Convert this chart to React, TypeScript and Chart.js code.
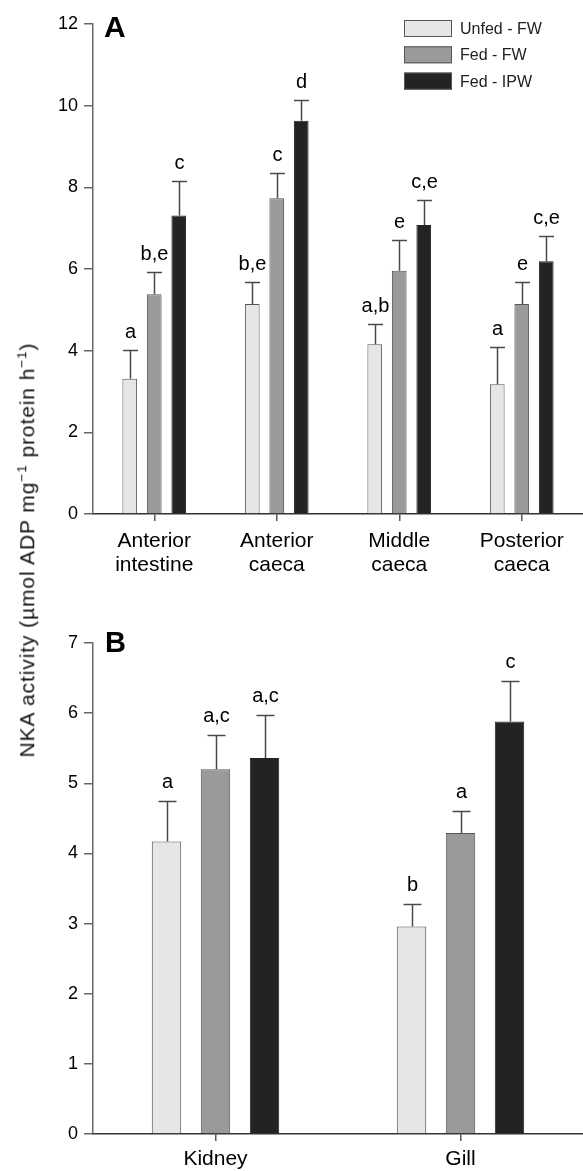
import React, { useEffect, useRef } from "react";
import { Chart, registerables } from "chart.js";

Chart.register(...registerables);

// ---------- data ----------
const seriesLabels = ["Unfed - FW", "Fed - FW", "Fed - IPW"];
const seriesColors = ["#e6e6e6", "#9a9a9a", "#232323"];

const categoriesA = [["Anterior", "intestine"], ["Anterior", "caeca"], ["Middle", "caeca"], ["Posterior", "caeca"]];
const unfedFwA = [3.31, 5.14, 4.16, 3.18];
const fedFwA = [5.38, 7.73, 5.96, 5.14];
const fedIpwA = [7.31, 9.63, 7.08, 6.19];
const unfedFwErrA = [0.71, 0.54, 0.5, 0.91];
const fedFwErrA = [0.54, 0.63, 0.76, 0.55];
const fedIpwErrA = [0.84, 0.52, 0.6, 0.61];
const unfedFwLettersA = ["a", "b,e", "a,b", "a"];
const fedFwLettersA = ["b,e", "c", "e", "e"];
const fedIpwLettersA = ["c", "d", "c,e", "c,e"];
const yTicksA = { min: 0, max: 12, step: 2 };

const categoriesB = ["Kidney", "Gill"];
const unfedFwB = [4.17, 2.96];
const fedFwB = [5.2, 4.29];
const fedIpwB = [5.36, 5.88];
const unfedFwErrB = [0.58, 0.32];
const fedFwErrB = [0.49, 0.31];
const fedIpwErrB = [0.61, 0.58];
const unfedFwLettersB = ["a", "b"];
const fedFwLettersB = ["a,c", "a"];
const fedIpwLettersB = ["a,c", "c"];
const yTicksB = { min: 0, max: 7, step: 1 };

const yTitle = "NKA activity (\u00b5mol ADP mg";

const FONT = "'Liberation Sans', Arial, Helvetica, sans-serif";

// ---------- plugins ----------
const errPlugin = {
  id: "errbars",
  afterDatasetsDraw(chart: any, _args: any, opts: any) {
    const ctx = chart.ctx;
    const ys = chart.scales.y;
    chart.data.datasets.forEach((ds: any, di: number) => {
      const meta = chart.getDatasetMeta(di);
      meta.data.forEach((bar: any, i: number) => {
        const v = ds.data[i];
        const e = opts.errors[di][i];
        const top = Math.round(ys.getPixelForValue(v + e)) + 0.5;
        const x = Math.round(bar.x) + 0.5;
        const by = bar.y;
        ctx.save();
        ctx.strokeStyle = "#4a4a4a";
        ctx.lineWidth = 1.5;
        ctx.beginPath();
        ctx.moveTo(x, by);
        ctx.lineTo(x, top);
        ctx.moveTo(x - opts.cap / 2, top);
        ctx.lineTo(x + opts.cap / 2, top);
        ctx.stroke();
        ctx.fillStyle = "#000";
        ctx.font = `${opts.letterSize}px ${FONT}`;
        ctx.textAlign = "center";
        ctx.textBaseline = "alphabetic";
        ctx.fillText(opts.letters[di][i], x, top - opts.gap);
        ctx.restore();
      });
    });
  },
};

const decoPlugin = {
  id: "deco",
  afterDraw(chart: any, _args: any, opts: any) {
    const ctx = chart.ctx;
    ctx.save();
    ctx.fillStyle = "#000";
    ctx.font = `bold ${opts.letterSize}px ${FONT}`;
    ctx.textAlign = "left";
    ctx.textBaseline = "alphabetic";
    ctx.fillText(opts.letter, opts.letterX, opts.letterY);
    if (opts.legend) {
      const lg = opts.legend;
      chart.data.datasets.forEach((ds: any, i: number) => {
        const y = lg.y + i * lg.rowH;
        ctx.fillStyle = ds.backgroundColor;
        ctx.fillRect(lg.x, y, lg.boxW, lg.boxH);
        ctx.strokeStyle = "#555";
        ctx.lineWidth = 1;
        ctx.strokeRect(lg.x + 0.5, y + 0.5, lg.boxW - 1, lg.boxH - 1);
        ctx.fillStyle = "#222";
        ctx.font = `${lg.fontSize}px ${FONT}`;
        ctx.textBaseline = "middle";
        ctx.fillText(ds.label, lg.x + lg.boxW + 8, y + lg.boxH / 2 + 1);
      });
    }
    ctx.restore();
  },
};

function makeConfig(
  labels: any[],
  series: number[][],
  errors: number[][],
  letters: string[][],
  yt: { min: number; max: number; step: number },
  dims: { padTop: number; xHeight: number; yWidth: number; xPad: number },
  extra: any
) {
  return {
    type: "bar",
    data: {
      labels,
      datasets: series.map((d, i) => ({
        label: seriesLabels[i],
        data: d,
        backgroundColor: seriesColors[i],
        borderColor: i === 2 ? "#232323" : "#555555",
        borderWidth: 1,
        borderSkipped: "bottom",
        categoryPercentage: 0.6,
        barPercentage: 0.6,
      })),
    },
    options: {
      responsive: false,
      animation: false,
      events: [],
      layout: { padding: { top: dims.padTop, left: 0, right: 0, bottom: 0 } },
      plugins: {
        legend: { display: false },
        tooltip: { enabled: false },
        title: { display: false },
        errbars: { errors, letters, cap: extra.cap, gap: extra.gap, letterSize: 20 },
        deco: extra.deco,
      },
      scales: {
        x: {
          type: "category",
          offset: true,
          afterFit: (s: any) => {
            s.height = dims.xHeight;
          },
          grid: {
            display: true,
            drawOnChartArea: false,
            drawTicks: true,
            tickLength: 7,
            offset: false,
            color: "#555",
            lineWidth: 1.5,
          },
          border: { display: true, color: "#333", width: 1.5 },
          ticks: {
            color: "#000",
            font: { family: FONT, size: 21, lineHeight: 1.15 },
            padding: dims.xPad,
            maxRotation: 0,
            autoSkip: false,
          },
        },
        y: {
          min: yt.min,
          max: yt.max,
          afterFit: (s: any) => {
            s.width = dims.yWidth;
          },
          grid: {
            display: true,
            drawOnChartArea: false,
            drawTicks: true,
            tickLength: 9,
            color: "#666",
            lineWidth: 1.5,
          },
          border: { display: true, color: "#666", width: 1.5 },
          ticks: {
            stepSize: yt.step,
            color: "#000",
            font: { family: FONT, size: 18 },
            padding: 6,
          },
        },
      },
    },
    plugins: [errPlugin, decoPlugin],
  } as any;
}

export default function App() {
  const refA = useRef<HTMLCanvasElement>(null);
  const refB = useRef<HTMLCanvasElement>(null);

  useEffect(() => {
    const chartA = new Chart(
      refA.current!,
      makeConfig(
        categoriesA,
        [unfedFwA, fedFwA, fedIpwA],
        [unfedFwErrA, fedFwErrA, fedIpwErrA],
        [unfedFwLettersA, fedFwLettersA, fedIpwLettersA],
        yTicksA,
        { padTop: 24, xHeight: 86, yWidth: 93, xPad: 8 },
        {
          cap: 15,
          gap: 13,
          deco: {
            letter: "A",
            letterX: 104,
            letterY: 37,
            letterSize: 30,
            legend: { x: 404, y: 20, rowH: 26.3, boxW: 48, boxH: 17, fontSize: 16 },
          },
        }
      )
    );
    const chartB = new Chart(
      refB.current!,
      makeConfig(
        categoriesB,
        [unfedFwB, fedFwB, fedIpwB],
        [unfedFwErrB, fedFwErrB, fedIpwErrB],
        [unfedFwLettersB, fedFwLettersB, fedIpwLettersB],
        yTicksB,
        { padTop: 43, xHeight: 37, yWidth: 93, xPad: 6 },
        {
          cap: 18,
          gap: 14,
          deco: { letter: "B", letterX: 105, letterY: 52, letterSize: 29, legend: null },
        }
      )
    );
    return () => {
      chartA.destroy();
      chartB.destroy();
    };
  }, []);

  return (
    <div
      style={{
        position: "absolute",
        left: 0,
        top: 0,
        width: 583,
        height: 1171,
        background: "#fff",
        fontFamily: FONT,
        overflow: "hidden",
      }}
    >
      <canvas ref={refA} width={583} height={600} style={{ position: "absolute", left: 0, top: 0 }} />
      <canvas ref={refB} width={583} height={571} style={{ position: "absolute", left: 0, top: 600 }} />
      <div
        style={{
          position: "absolute",
          left: 26,
          top: 550,
          transform: "translate(-50%, -50%) rotate(-90deg)",
          whiteSpace: "nowrap",
          fontSize: 21,
          letterSpacing: "0.9px",
          color: "#111",
          lineHeight: 1,
        }}
      >
        {yTitle}
        <sup style={{ fontSize: "0.65em", verticalAlign: "0.55em" }}>−1</sup> protein h
        <sup style={{ fontSize: "0.65em", verticalAlign: "0.55em" }}>−1</sup>)
      </div>
    </div>
  );
}
